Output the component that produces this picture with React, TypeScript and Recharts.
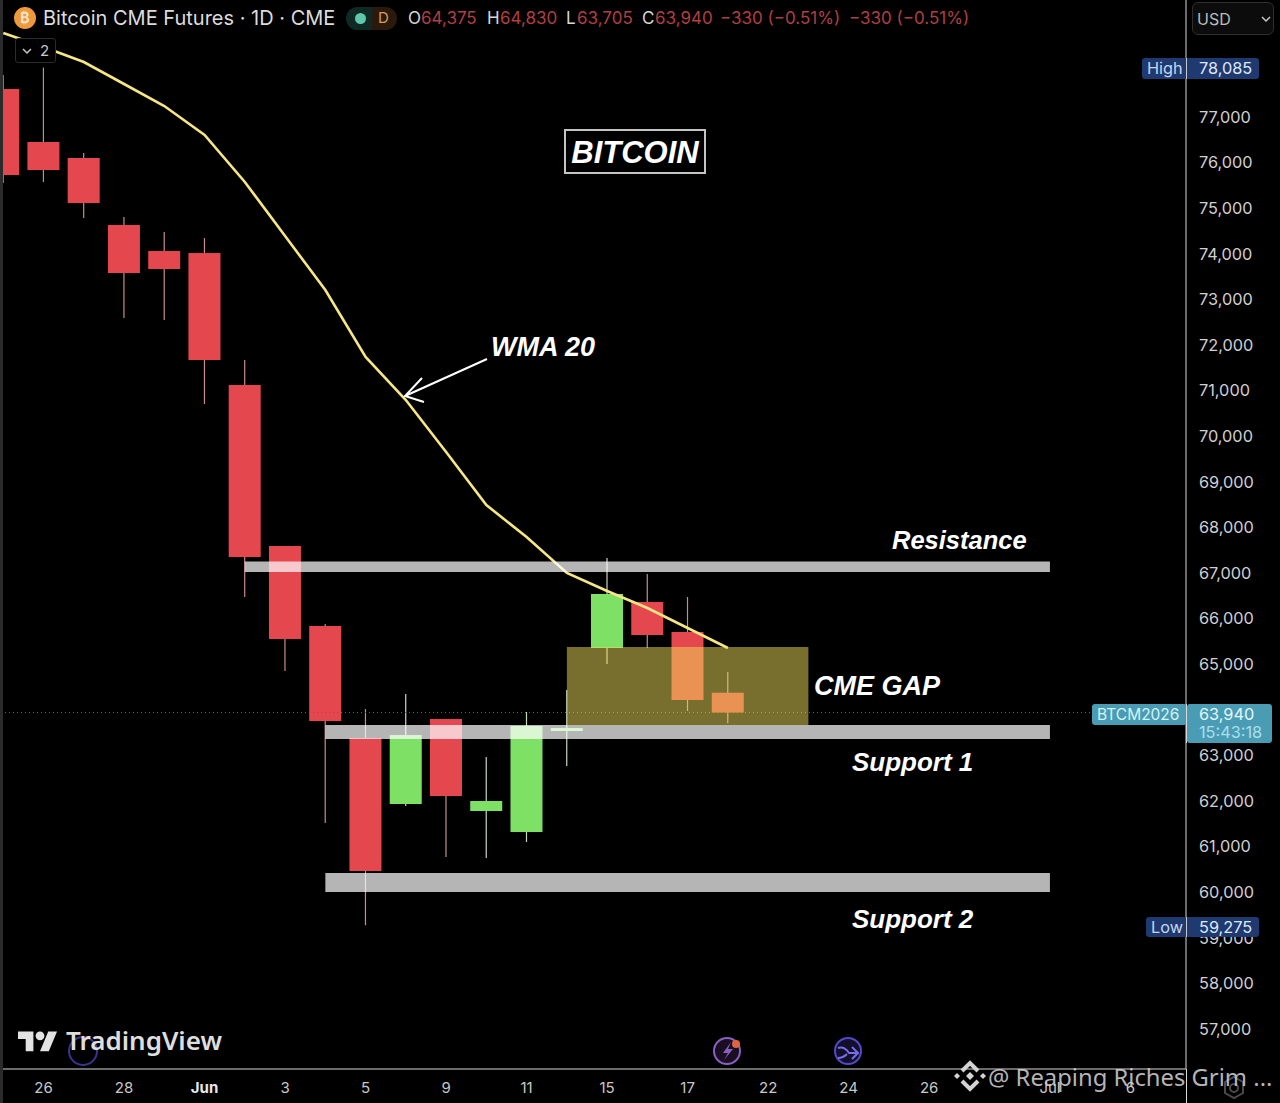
import {
  Bar,
  ComposedChart,
  Line,
  ReferenceArea,
  ReferenceLine,
  XAxis,
  YAxis,
} from 'recharts'

// one entry per daily session, first one is the candle cut off at the left edge
const dates = ['May 25', 'May 26', 'May 27', 'May 28', 'May 29', 'Jun 1', 'Jun 2', 'Jun 3', 'Jun 4', 'Jun 5', 'Jun 8', 'Jun 9', 'Jun 10', 'Jun 11', 'Jun 12', 'Jun 15', 'Jun 16', 'Jun 17', 'Jun 18']
const opens = [77614, 76452, 76101, 74632, 74061, 74017, 71123, 67592, 65838, 63381, 61934, 63798, 61781, 61320, 63535, 65355, 66364, 65706, 64375]
const highs = [77921, 78085, 76211, 74807, 74478, 74346, 71671, 67592, 65882, 64018, 64346, 63798, 62965, 63952, 64434, 67329, 66978, 66474, 64830]
const lows = [75553, 75575, 74785, 72592, 72548, 70706, 66474, 64851, 61517, 59275, 61890, 60772, 60750, 61100, 62768, 65005, 65355, 63974, 63705]
const closes = [75728, 75838, 75114, 73579, 73667, 71671, 67351, 65553, 63754, 60465, 63447, 62109, 62000, 63645, 63600, 66540, 65640, 64215, 63940]
const wma20 = [78842, 78535, 78206, 77724, 77241, 76605, 75575, 74390, 73206, 71737, 70794, 69654, 68491, 67789, 67000, 66605, 66232, 65794, 65355]

const priceTicks = [77000, 76000, 75000, 74000, 73000, 72000, 71000, 70000, 69000, 68000, 67000, 66000, 65000, 63000, 62000, 61000, 60000, 59000, 58000, 57000]
const timeTickIndex = [1, 3, 5, 7, 9, 11, 13, 15, 17, 19, 21, 23, 26, 28]
const timeTickLabels = ['26', '28', 'Jun', '3', '5', '9', '11', '15', '17', '22', '24', '26', 'Jul', '6']

// from/to are session indexes, top/bottom are prices
const zones = [
  { name: 'Resistance', from: 6, to: 26, top: 67252, bottom: 67022 },
  { name: 'Support 1', from: 8, to: 26, top: 63667, bottom: 63360 },
  { name: 'Support 2', from: 8, to: 26, top: 60421, bottom: 60004 },
]
const gap = { from: 14, to: 20, top: 65377, bottom: 63667 }
const lastPrice = 63940

const rows = dates.map((date, i) => ({
  i,
  date,
  open: opens[i],
  high: highs[i],
  low: lows[i],
  close: closes[i],
  range: [lows[i], highs[i]],
  wma: wma20[i],
}))

const RED = '#E5474F'
const GREEN = '#7FE066'
const UI = 'Inter, "Noto Sans", sans-serif'
const NOTE = '"Liberation Sans", Arial, sans-serif'

function Candle(props: any) {
  const { x, y, width, height, payload } = props
  const up = payload.close >= payload.open
  // the bar spans low..high, body is placed inside that span
  const perUnit = height / (payload.high - payload.low)
  const top = y + (payload.high - Math.max(payload.open, payload.close)) * perUnit
  const bottom = y + (payload.high - Math.min(payload.open, payload.close)) * perUnit
  const mid = x + width / 2
  return (
    <g>
      <line x1={mid} x2={mid} y1={y} y2={y + height} stroke={up ? '#c4d8bd' : '#c58d8f'} strokeWidth={1.2} />
      <rect x={x} y={top} width={width} height={bottom - top} fill={up ? GREEN : RED} />
    </g>
  )
}

function TimeTick({ x, y, payload }: any) {
  const label = timeTickLabels[timeTickIndex.indexOf(payload.value)]
  return (
    <text
      x={x}
      y={y + 16}
      textAnchor="middle"
      fill={label === 'Jun' ? '#e8e8e8' : '#c8c8c8'}
      fontWeight={label === 'Jun' ? 700 : 400}
      fontSize={15}
      fontFamily={UI}
    >
      {label}
    </text>
  )
}

function Note({ x, y, size = 27, children }: any) {
  return (
    <div
      style={{
        position: 'absolute',
        left: x,
        top: y,
        fontFamily: NOTE,
        fontWeight: 700,
        fontStyle: 'italic',
        fontSize: size,
        lineHeight: '34px',
        color: '#fff',
        whiteSpace: 'nowrap',
      }}
    >
      {children}
    </div>
  )
}

function Txt({ x, y, size = 16.3, color = '#d0d0d0', weight = 400, children }: any) {
  return (
    <div
      style={{
        position: 'absolute',
        left: x,
        top: y,
        fontFamily: UI,
        fontSize: size,
        fontWeight: weight,
        lineHeight: '20px',
        color,
        whiteSpace: 'nowrap',
      }}
    >
      {children}
    </div>
  )
}

function Box({ x, y, w, h, bg, border, radius = 3 }: any) {
  return (
    <div
      style={{
        position: 'absolute',
        left: x,
        top: y,
        width: w,
        height: h,
        background: bg,
        border,
        borderRadius: radius,
        boxSizing: 'border-box',
      }}
    />
  )
}

export default function App() {
  return (
    <div style={{ position: 'absolute', left: 0, top: 0, width: 1280, height: 1103, background: '#000', overflow: 'hidden' }}>
      <ComposedChart width={1280} height={1103} data={rows} margin={{ top: 0, right: 0, left: 0, bottom: 0 }}>
        <XAxis
          dataKey="i"
          type="number"
          domain={[-0.082, 29.38]}
          ticks={timeTickIndex}
          interval={0}
          height={34}
          stroke="#d8d8d8"
          tickLine={false}
          tick={<TimeTick />}
        />
        <YAxis
          orientation="right"
          type="number"
          domain={[56123, 79566]}
          ticks={priceTicks}
          interval={0}
          width={94}
          stroke="#d8d8d8"
          tickLine={false}
          tickMargin={7}
          tick={{ fill: '#d0d0d0', fontSize: 16.3, fontFamily: UI }}
          tickFormatter={(v: number) => v.toLocaleString('en-US')}
        />
        <ReferenceLine y={lastPrice} stroke="#5a6b66" strokeDasharray="1 3" />
        <Bar dataKey="range" barSize={32} shape={<Candle />} isAnimationActive={false} />
        <Line dataKey="wma" stroke="#F6E684" strokeWidth={2.6} dot={false} activeDot={false} isAnimationActive={false} />
        <ReferenceArea
          x1={gap.from}
          x2={gap.to}
          y1={gap.bottom}
          y2={gap.top}
          fill="#F0DC5A"
          fillOpacity={0.5}
          stroke="none"
          zIndex={700}
        />
        {zones.map((z) => (
          <ReferenceArea
            key={z.name}
            x1={z.from}
            x2={z.to}
            y1={z.bottom}
            y2={z.top}
            fill="#fff"
            fillOpacity={0.71}
            stroke="none"
            zIndex={710}
          />
        ))}
      </ComposedChart>

      {/* left strip and axis line running into the corner */}
      <Box x={0} y={0} w={3} h={1103} bg="#2b2b2b" radius={0} />
      <Box x={1186} y={1069} w={1} h={34} bg="#d8d8d8" radius={0} />

      {/* header */}
      <svg style={{ position: 'absolute', left: 0, top: 0 }} width={1280} height={1103}>
        <circle cx={25} cy={18} r={11} fill="#EE9A3C" />
        <text x={25} y={23} textAnchor="middle" fontSize={14} fontWeight={700} fill="#f7e3c8" fontFamily={UI}>₿</text>

        {/* arrow to the WMA line */}
        <path d="M487 359 L405 396 M422 378 L405 396 L424 402" stroke="#fff" strokeWidth={2} fill="none" />

        {/* TradingView logo */}
        <g transform="translate(18 1027) scale(1.1)" fill="#e2e2e2">
          <path d="M14 22H7V11H0V4h14v18zM28 22h-8l7.5-18h8L28 22z" />
          <circle cx={20} cy={8} r={4} />
        </g>

        {/* chart toolbar buttons */}
        <circle cx={83} cy={1051} r={14} fill="none" stroke="#3a3490" strokeWidth={2} />
        <circle cx={727} cy={1051} r={13} fill="#1a0f22" stroke="#8a5fc0" strokeWidth={2} />
        <path d="M731 1042 L723 1053 H728 L724 1060 L733 1049 H728 Z" fill="#8a5fc0" />
        <circle cx={736} cy={1044} r={4} fill="#E0653F" />
        <circle cx={848} cy={1051} r={13} fill="#120f2c" stroke="#5548c8" strokeWidth={2} />
        <path d="M838 1048 C844 1046 847 1050 849 1053 H857 M852 1047 L858 1053 L852 1059 M838 1058 C842 1058 845 1056 847 1054" stroke="#7a6ee6" strokeWidth={2} fill="none" />

        {/* watermark logo */}
        <g transform="translate(970 1076)" fill="#d4d4d4" stroke="none">
          <path d="M-8 -5 L0 -13 L8 -5" fill="none" stroke="#d4d4d4" strokeWidth={4} />
          <path d="M-8 5 L0 13 L8 5" fill="none" stroke="#d4d4d4" strokeWidth={4} />
          <path d="M0 -4 L4 0 L0 4 L-4 0 Z" />
          <path d="M-13 -3 L-10 0 L-13 3 L-16 0 Z" />
          <path d="M13 -3 L16 0 L13 3 L10 0 Z" />
        </g>
        <path d="M1234 1077 L1243 1082 V1093 L1234 1098 L1225 1093 V1082 Z" fill="none" stroke="#4a4a4a" strokeWidth={2} />
        <circle cx={1234} cy={1088} r={4} fill="none" stroke="#4a4a4a" strokeWidth={2} />
      </svg>

      <Txt x={43} y={8} size={20} color="#dcdcdc">Bitcoin CME Futures · 1D · CME</Txt>
      <Box x={346} y={7} w={26} h={23} bg="#0f2a24" radius="12px 0 0 12px" />
      <Box x={372} y={7} w={25} h={23} bg="#2a1a0c" radius="0 12px 12px 0" />
      <Box x={355} y={13} w={11} h={11} bg="#5fc8ac" radius={6} />
      <Txt x={378} y={8} size={15} color="#d99a5c">D</Txt>
      <Txt x={408} y={8} size={17} color="#d8d8d8">O</Txt>
      <Txt x={421} y={8} size={17} color="#b03f44">64,375</Txt>
      <Txt x={487} y={8} size={17} color="#d8d8d8">H</Txt>
      <Txt x={500} y={8} size={17} color="#b03f44">64,830</Txt>
      <Txt x={566} y={8} size={17} color="#d8d8d8">L</Txt>
      <Txt x={577} y={8} size={17} color="#b03f44">63,705</Txt>
      <Txt x={642} y={8} size={17} color="#d8d8d8">C</Txt>
      <Txt x={655} y={8} size={17} color="#b03f44">63,940</Txt>
      <Txt x={720} y={8} size={17} color="#b03f44">−330 (−0.51%)</Txt>
      <Txt x={849} y={8} size={17} color="#b03f44">−330 (−0.51%)</Txt>

      <Box x={15} y={38} w={41} h={25} bg="#000" border="1px solid #2c2c2c" />
      <svg style={{ position: 'absolute', left: 0, top: 0 }} width={60} height={70}>
        <path d="M23 49 L27 53 L31 49" stroke="#c8c8c8" strokeWidth={1.5} fill="none" />
      </svg>
      <Txt x={40} y={41} size={15} color="#c8c8c8">2</Txt>

      <Box x={1192} y={2} w={82} h={33} bg="#0c0c0c" border="1px solid #2e2e2e" radius={6} />
      <Txt x={1197} y={9} size={16} color="#bcbcbc">USD</Txt>
      <svg style={{ position: 'absolute', left: 1260, top: 14 }} width={12} height={10}>
        <path d="M2 3 L6 7 L10 3" stroke="#c8c8c8" strokeWidth={1.5} fill="none" />
      </svg>

      {/* price badges */}
      <Box x={1142} y={58} w={117} h={21} bg="#1E3A70" />
      <Txt x={1147} y={58} color="#c6d6f0">High</Txt>
      <Txt x={1199} y={58} color="#dfe8f8">78,085</Txt>
      <Box x={1186} y={58} w={1} h={21} bg="#c8c8c8" radius={0} />

      <Box x={1146} y={917} w={113} h={20} bg="#1E3A70" />
      <Txt x={1151} y={917} color="#c6d6f0">Low</Txt>
      <Txt x={1199} y={917} color="#dfe8f8">59,275</Txt>
      <Box x={1186} y={917} w={1} h={20} bg="#c8c8c8" radius={0} />

      <Box x={1092} y={704} w={95} h={21} bg="#4A9CB5" />
      <Box x={1187} y={704} w={85} h={39} bg="#4A9CB5" />
      <Box x={1186} y={704} w={1} h={39} bg="#d8d8d8" radius={0} />
      <Txt x={1097} y={705} size={15.5} color="#d5f3fa">BTCM2026</Txt>
      <Txt x={1199} y={704} color="#e4f7fb">63,940</Txt>
      <Txt x={1199} y={722} color="#a9dfeb">15:43:18</Txt>

      {/* annotations */}
      <div
        style={{
          position: 'absolute',
          left: 564,
          top: 129,
          width: 142,
          height: 45,
          border: '2px solid #c4c4c4',
          boxSizing: 'border-box',
          textAlign: 'center',
          fontFamily: NOTE,
          fontWeight: 700,
          fontStyle: 'italic',
          fontSize: 31,
          lineHeight: '43px',
          color: '#fff',
        }}
      >
        BITCOIN
      </div>
      <Note x={491} y={330}>WMA 20</Note>
      <Note x={892} y={523} size={25.5}>Resistance</Note>
      <Note x={814} y={669}>CME GAP</Note>
      <Note x={852} y={745} size={26}>Support 1</Note>
      <Note x={852} y={902} size={26}>Support 2</Note>

      <div
        style={{
          position: 'absolute',
          left: 66,
          top: 1022,
          fontFamily: '"Noto Sans", sans-serif',
          fontWeight: 600,
          fontSize: 26,
          lineHeight: '36px',
          color: '#dedede',
        }}
      >
        TradingView
      </div>
      <div
        style={{
          position: 'absolute',
          left: 988,
          top: 1060,
          fontFamily: '"Noto Sans", sans-serif',
          fontSize: 23.8,
          lineHeight: '34px',
          color: 'rgba(215,215,215,0.85)',
          whiteSpace: 'nowrap',
        }}
      >
        @ Reaping Riches Grim ...
      </div>
    </div>
  )
}
